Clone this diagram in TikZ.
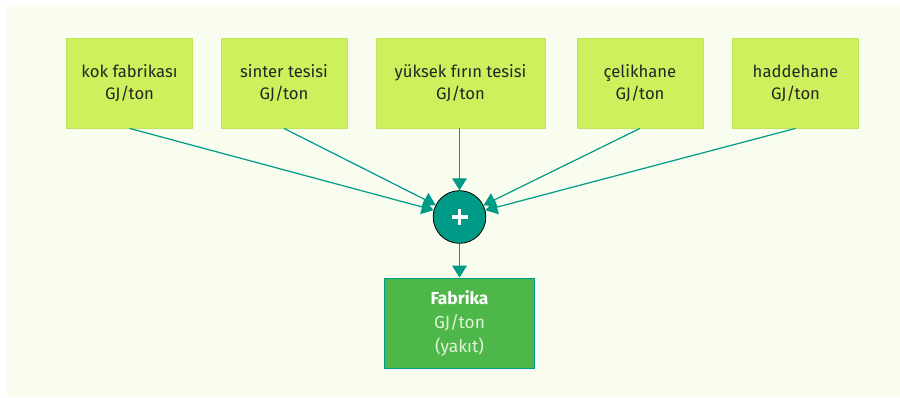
\documentclass[tikz,border=0pt]{standalone}
\usepackage{fontspec}
\setmainfont{Fira Sans}
\usetikzlibrary{arrows.meta}
\definecolor{panel}{HTML}{F8FDEF}
\definecolor{limebox}{HTML}{CDF05C}
\definecolor{limeedge}{HTML}{BFE65A}
\definecolor{teal}{HTML}{009B86}
\definecolor{plantgreen}{HTML}{4DB849}
\definecolor{paletext}{HTML}{E4F4DA}
\begin{document}
\begin{tikzpicture}[x=0.75pt,y=-0.75pt,
  unitbox/.style={draw=limeedge,fill=limebox,line width=0.6pt,minimum height=67.5pt,
    align=center,font=\fontsize{12.5}{16.5}\selectfont,text=black!85},
  feed/.style={draw=teal,line width=0.9pt,-{Triangle[length=9pt,width=11pt]}},
  sumnode/.style={circle,draw=black,fill=teal,line width=0.6pt,minimum size=39.5pt,inner sep=0pt}]
  % background panel
  \useasboundingbox (0,0) rectangle (900,397);
  \fill[white] (0,0) rectangle (900,397);
  \fill[panel] (7,5) rectangle (900,397);
  % source units
  \node[unitbox,minimum width=95pt] (kok) at (129.5,83) {kok fabrikası\\GJ/ton};
  \node[unitbox,minimum width=94.5pt] (sinter) at (284,83) {sinter tesisi\\GJ/ton};
  \node[unitbox,minimum width=126.75pt] (yuksek) at (460.5,83) {yüksek fırın tesisi\\GJ/ton};
  \node[unitbox,minimum width=94.5pt] (celik) at (640,83) {çelikhane\\GJ/ton};
  \node[unitbox,minimum width=95pt] (hadde) at (795.5,83) {haddehane\\GJ/ton};
  % summing junction
  \node[sumnode] (sum) at (459.5,217) {};
  \fill[white] ([xshift=-6pt,yshift=-1.3pt]sum.center) rectangle ([xshift=6pt,yshift=1.3pt]sum.center);
  \fill[white] ([xshift=-1.3pt,yshift=-6pt]sum.center) rectangle ([xshift=1.3pt,yshift=6pt]sum.center);
  % plant total
  \node[draw=teal,fill=plantgreen,line width=0.6pt,minimum width=113pt,minimum height=67.5pt,
    align=center,font=\fontsize{13}{18}\selectfont,text=paletext] (plant) at (459.5,323)
    {\textcolor{white}{\bfseries Fabrika}\\GJ/ton\\(yakıt)};
  % connectors
  \draw[feed] (kok.south) -- (sum);
  \draw[feed] (sinter.south) -- (sum);
  \draw[feed] (yuksek.south -| sum) -- (sum);
  \draw[feed] (celik.south) -- (sum);
  \draw[feed] (hadde.south) -- (sum);
  \draw[feed] (sum) -- (plant);
\end{tikzpicture}
\end{document}
